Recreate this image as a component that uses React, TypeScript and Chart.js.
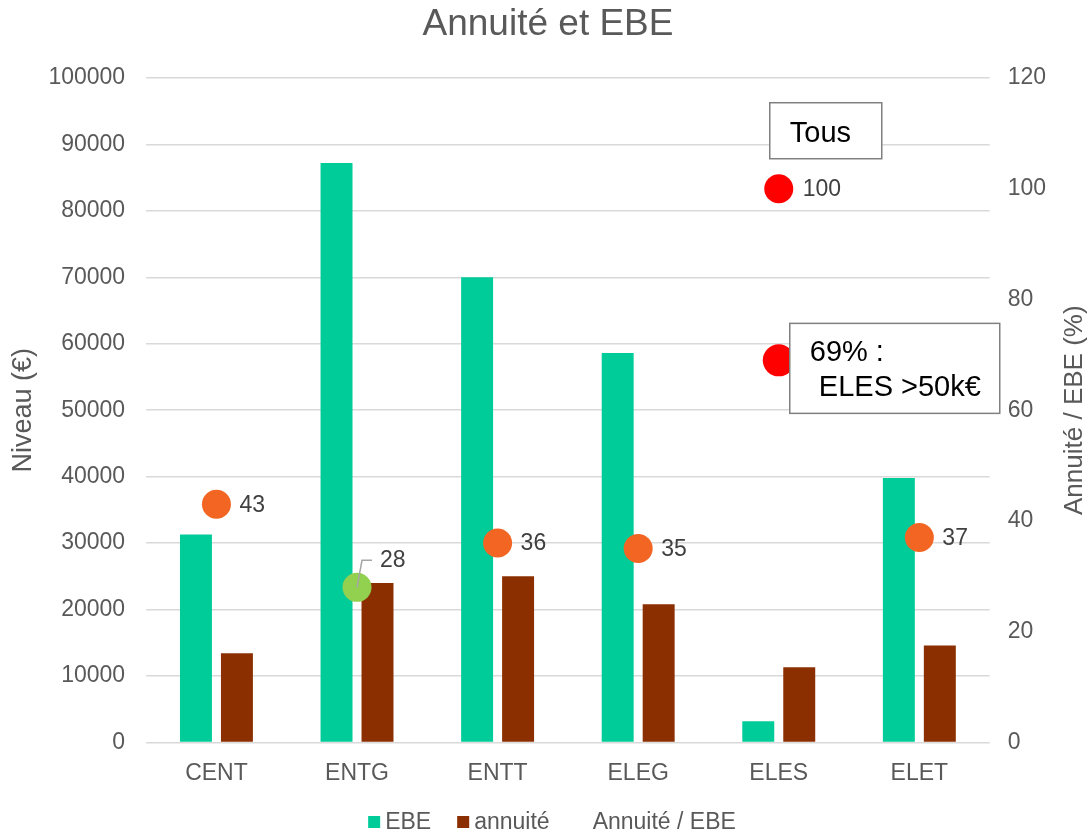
import React, { useEffect, useRef } from "react";
import { Chart, registerables } from "chart.js";

Chart.register(...registerables);

const categories = ["CENT", "ENTG", "ENTT", "ELEG", "ELES", "ELET"];
const ebe = [31300, 87200, 70000, 58600, 3200, 39800];
const annuite = [13400, 24000, 25000, 20800, 11300, 14600];
const ratio: (number | null)[] = [43, 28, 36, 35, null, 37];
const ratioLabels = ["43", "28", "36", "35", "", "37"];
const ratioColors = ["#F26522", "#92D050", "#F26522", "#F26522", "#F26522", "#F26522"];
const ratioLabelPlacement = ["right", "leader", "right", "right", "right", "right"];
const tousPoint: (number | null)[] = [null, null, null, null, 100, null];
const tousLabel = "100";
const eles50kPoint: (number | null)[] = [null, null, null, null, 69, null];
const tousBoxText = "Tous";
const eles50kBoxText = ["69% :", " ELES >50k€"];
const legendLabels = ["EBE", "annuité", "Annuité / EBE"];
const leftAxisMax = 100000;
const leftAxisStep = 10000;
const rightAxisMax = 120;
const rightAxisStep = 20;
const chartTitle = "Annuité et EBE";
const leftAxisTitle = "Niveau (€)";
const rightAxisTitle = "Annuité / EBE (%)";

const FONT = "'Liberation Sans', Arial, sans-serif";
const GREY = "#595959";
const EBE_COLOR = "#00CC99";
const ANN_COLOR = "#8B2F00";
const legendColors = [EBE_COLOR, ANN_COLOR, "rgba(0,0,0,0)"];

const overlayPlugin = {
  id: "overlay",
  afterDatasetsDraw(chart: any) {
    const ctx = chart.ctx;
    ctx.save();
    ctx.font = `23px ${FONT}`;
    ctx.fillStyle = "#404040";
    ctx.textBaseline = "middle";
    ctx.textAlign = "left";
    const meta = chart.getDatasetMeta(2);
    meta.data.forEach((el: any, i: number) => {
      if (ratio[i] == null) return;
      const { x, y } = el;
      if (ratioLabelPlacement[i] === "leader") {
        ctx.strokeStyle = "#A6A6A6";
        ctx.lineWidth = 1.5;
        ctx.beginPath();
        ctx.moveTo(x, y);
        ctx.lineTo(x + 5, y - 27);
        ctx.lineTo(x + 15, y - 27);
        ctx.stroke();
        ctx.fillText(ratioLabels[i], x + 23, y - 27);
      } else {
        ctx.fillText(ratioLabels[i], x + 23, y + 1);
      }
    });
    const m3 = chart.getDatasetMeta(3);
    m3.data.forEach((el: any, i: number) => {
      if (tousPoint[i] == null) return;
      const { x, y } = el;
      ctx.font = `23px ${FONT}`;
      ctx.fillStyle = "#404040";
      ctx.textBaseline = "middle";
      ctx.fillText(tousLabel, x + 24, y + 1);
      ctx.fillStyle = "#FFFFFF";
      ctx.fillRect(x - 9, y - 86, 112, 56);
      ctx.strokeStyle = "#808080";
      ctx.lineWidth = 1.5;
      ctx.strokeRect(x - 9, y - 86, 112, 56);
      ctx.fillStyle = "#000000";
      ctx.font = `29px ${FONT}`;
      ctx.textBaseline = "alphabetic";
      ctx.fillText(tousBoxText, x + 11, y - 47);
    });
    const m4 = chart.getDatasetMeta(4);
    m4.data.forEach((el: any, i: number) => {
      if (eles50kPoint[i] == null) return;
      const { x, y } = el;
      ctx.fillStyle = "#FFFFFF";
      ctx.fillRect(x + 11, y - 37, 210, 90);
      ctx.strokeStyle = "#808080";
      ctx.lineWidth = 1.5;
      ctx.strokeRect(x + 11, y - 37, 210, 90);
      ctx.fillStyle = "#000000";
      ctx.font = `29px ${FONT}`;
      ctx.textBaseline = "alphabetic";
      ctx.fillText(eles50kBoxText[0], x + 31, y + 1);
      ctx.fillText(eles50kBoxText[1], x + 32, y + 36);
    });
    ctx.restore();
  },
  afterDraw(chart: any) {
    const ctx = chart.ctx;
    const area = chart.chartArea;
    ctx.save();
    ctx.font = `37px ${FONT}`;
    ctx.fillStyle = GREY;
    ctx.textAlign = "center";
    ctx.textBaseline = "middle";
    ctx.fillText(chartTitle, 548, 25);
    ctx.font = `26px ${FONT}`;
    ctx.save();
    ctx.translate(1075, (area.top + area.bottom) / 2 + 0);
    ctx.rotate(-Math.PI / 2);
    ctx.fillText(rightAxisTitle, 0, 0);
    ctx.restore();
    ctx.font = `23px ${FONT}`;
    ctx.textAlign = "left";
    const box = 12, gapText = 5, gapItem = 26;
    const widths = legendLabels.map((t) => box + gapText + ctx.measureText(t).width);
    const total = widths.reduce((a, b) => a + b, 0) + gapItem * (widths.length - 1);
    let x = 552 - total / 2;
    const y = 822;
    legendLabels.forEach((t, i) => {
      ctx.fillStyle = legendColors[i];
      ctx.fillRect(x, y - 6, box, box);
      ctx.fillStyle = GREY;
      ctx.fillText(t, x + box + gapText, y + 1);
      x += widths[i] + gapItem;
    });
    ctx.restore();
  },
};

export default function App() {
  const ref = useRef<HTMLCanvasElement>(null);
  useEffect(() => {
    if (!ref.current) return;
    const chart = new Chart(ref.current, {
      type: "bar",
      data: {
        labels: categories,
        datasets: [
          {
            type: "bar",
            label: "EBE",
            data: ebe,
            backgroundColor: EBE_COLOR,
            yAxisID: "y",
            order: 2,
            barPercentage: 0.78,
            categoryPercentage: 0.583,
          },
          {
            type: "bar",
            label: "annuité",
            data: annuite,
            backgroundColor: ANN_COLOR,
            yAxisID: "y",
            order: 2,
            barPercentage: 0.78,
            categoryPercentage: 0.583,
          },
          {
            type: "line",
            label: "Annuité / EBE",
            data: ratio,
            showLine: false,
            pointRadius: 14.5,
            pointBackgroundColor: ratioColors,
            pointBorderWidth: 0,
            pointBorderColor: "rgba(0,0,0,0)",
            yAxisID: "y1",
            order: 0,
          },
          {
            type: "line",
            label: "Tous",
            data: tousPoint,
            showLine: false,
            pointRadius: 14.5,
            pointBackgroundColor: "#FF0000",
            pointBorderWidth: 0,
            pointBorderColor: "rgba(0,0,0,0)",
            yAxisID: "y1",
            order: 0,
          },
          {
            type: "line",
            label: "ELES >50k€",
            data: eles50kPoint,
            showLine: false,
            pointRadius: 16,
            pointBackgroundColor: "#FF0000",
            pointBorderWidth: 0,
            pointBorderColor: "rgba(0,0,0,0)",
            yAxisID: "y1",
            order: 0,
          },
        ] as any,
      },
      options: {
        responsive: false,
        animation: false,
        layout: { padding: { left: 7, right: 27, top: 78, bottom: 36 } },
        plugins: {
          title: { display: false },
          legend: { display: false },
          tooltip: { enabled: false },
        },
        scales: {
          x: {
            grid: { display: false },
            border: { display: false },
            ticks: { color: GREY, font: { family: FONT, size: 23 }, padding: 9 },
          },
          y: {
            position: "left",
            min: 0,
            max: leftAxisMax,
            ticks: {
              stepSize: leftAxisStep,
              color: GREY,
              font: { family: FONT, size: 23 },
              padding: 21,
              callback: (v: any) => String(v),
            },
            grid: { color: "#D9D9D9", lineWidth: 1.5, drawTicks: false },
            border: { display: false },
            title: {
              display: true,
              text: leftAxisTitle,
              color: GREY,
              font: { family: FONT, size: 27 },
              padding: { top: 0, bottom: -12 },
            },
          },
          y1: {
            position: "right",
            min: 0,
            max: rightAxisMax,
            ticks: {
              stepSize: rightAxisStep,
              color: GREY,
              font: { family: FONT, size: 23 },
              padding: 18,
              callback: (v: any) => String(v),
            },
            grid: { display: false, drawTicks: false },
            border: { display: false },
          },
        },
      },
      plugins: [overlayPlugin],
    });
    return () => chart.destroy();
  }, []);
  return (
    <canvas
      ref={ref}
      width={1091}
      height={832}
      style={{ position: "absolute", left: 0, top: 0, display: "block" }}
    />
  );
}
